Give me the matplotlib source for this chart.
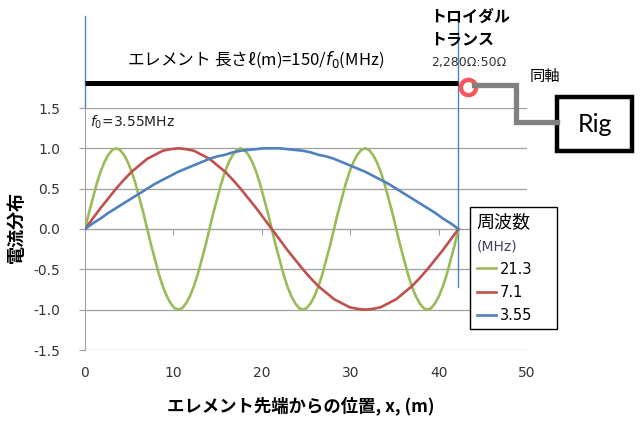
import matplotlib
matplotlib.use('Agg')
import matplotlib.pyplot as plt
from matplotlib.lines import Line2D
from matplotlib.patches import Rectangle
from matplotlib.font_manager import FontProperties

# data: current distribution along the element
x_pos = [0.0, 0.88, 1.76, 2.64, 3.52, 4.40, 5.28, 6.16, 7.04, 7.92, 8.80, 9.68,
         10.56, 11.44, 12.32, 13.20, 14.08, 14.96, 15.85, 16.72, 17.60, 18.48, 19.36, 20.24,
         21.13, 22.01, 22.89, 23.77, 24.65, 25.53, 26.41, 27.29, 28.17, 29.05, 29.93, 30.81,
         31.69, 32.57, 33.45, 34.33, 35.21, 36.09, 36.97, 37.85, 38.73, 39.61, 40.49, 41.37,
         42.25]
# finer positions for the 21.3 MHz curve
x_pos_fine = [0.0, 0.44, 0.88, 1.32, 1.76, 2.20, 2.64, 3.08, 3.52, 3.96, 4.40, 4.84,
              5.28, 5.72, 6.16, 6.60, 7.04, 7.48, 7.92, 8.36, 8.80, 9.24, 9.68, 10.12,
              10.56, 11.00, 11.44, 11.88, 12.32, 12.76, 13.20, 13.64, 14.08, 14.52, 14.96, 15.40,
              15.84, 16.28, 16.72, 17.16, 17.60, 18.04, 18.48, 18.92, 19.36, 19.80, 20.24, 20.68,
              21.13, 21.57, 22.01, 22.45, 22.89, 23.33, 23.77, 24.21, 24.65, 25.09, 25.53, 25.97,
              26.41, 26.85, 27.29, 27.73, 28.17, 28.61, 29.05, 29.49, 29.93, 30.37, 30.81, 31.25,
              31.69, 32.13, 32.57, 33.01, 33.45, 33.89, 34.33, 34.77, 35.21, 35.65, 36.09, 36.53,
              36.97, 37.41, 37.85, 38.29, 38.73, 39.17, 39.61, 40.05, 40.49, 40.93, 41.37, 41.81,
              42.25]
i_21_3 = [0, .20, .38, .56, .71, .83, .92, .98, 1, .98, .92, .83, .71, .56, .38, .20,
          0, -.20, -.38, -.56, -.71, -.83, -.92, -.98, -1, -.98, -.92, -.83, -.71, -.56, -.38, -.20,
          0, .20, .38, .56, .71, .83, .92, .98, 1, .98, .92, .83, .71, .56, .38, .20,
          0, -.20, -.38, -.56, -.71, -.83, -.92, -.98, -1, -.98, -.92, -.83, -.71, -.56, -.38, -.20,
          0, .20, .38, .56, .71, .83, .92, .98, 1, .98, .92, .83, .71, .56, .38, .20,
          0, -.20, -.38, -.56, -.71, -.83, -.92, -.98, -1, -.98, -.92, -.83, -.71, -.56, -.38, -.20,
          0]
i_7_1 = [0, .13, .26, .38, .50, .61, .71, .79, .87, .92, .97, .99, 1.0, .99, .97, .92,
         .87, .79, .71, .61, .50, .38, .26, .13, 0, -.13, -.26, -.38, -.50, -.61, -.71, -.79,
         -.87, -.92, -.97, -.99, -1.0, -.99, -.97, -.92, -.87, -.79, -.71, -.61, -.50, -.38, -.26, -.13,
         0]
i_3_55 = [0, .07, .13, .20, .26, .32, .38, .44, .50, .56, .61, .66, .71, .75, .79, .83,
          .87, .90, .92, .95, .97, .98, .99, 1.0, 1.0, 1.0, .99, .98, .97, .95, .92, .90,
          .87, .83, .79, .75, .71, .66, .61, .56, .50, .44, .38, .32, .26, .20, .13, .07,
          0]
series_labels = ['21.3', '7.1', '3.55']
series_colors = ['#9bbb59', '#c0504d', '#4f81bd']
x_ticks = [0, 10, 20, 30, 40, 50]
y_ticks = [-1.5, -1.0, -0.5, 0.0, 0.5, 1.0, 1.5]
element_len = 42.25   # 150 / 3.55 MHz

W, H = 642, 422
JP = ['Noto Sans CJK JP', 'DejaVu Sans']

def fx(px):
    return px / W

def fy(py):
    return 1 - py / H

fig = plt.figure(figsize=(W / 100, H / 100), dpi=100)
ax = fig.add_axes([fx(85), fy(350), (527 - 85) / W, (350 - 108) / H])

lines = []
xs_list = [x_pos_fine, x_pos, x_pos]
for xs, ys, lab, col in zip(xs_list, [i_21_3, i_7_1, i_3_55], series_labels, series_colors):
    ln, = ax.plot(xs, ys, color=col, lw=1.9, label=lab, zorder=3,
                  solid_joinstyle='round')
    lines.append(ln)

ax.set_xlim(0, 50)
ax.set_ylim(-1.5, 1.5)
ax.set_yticks(y_ticks)
ax.set_yticklabels([f'{v:.1f}' for v in y_ticks])
ax.set_xticks(x_ticks[1:-1])

grid_c = '#a0a0a0'
ax.grid(axis='y', color=grid_c, lw=0.9)
ax.set_axisbelow(True)
for s in ['top', 'right']:
    ax.spines[s].set_visible(False)
ax.spines['left'].set_color(grid_c)
ax.spines['bottom'].set_position(('data', 0))
ax.spines['bottom'].set_color(grid_c)
ax.tick_params(axis='y', colors=grid_c, labelcolor='#333333', labelsize=10,
               length=4, pad=14)
ax.tick_params(axis='x', colors=grid_c, length=4, labelbottom=False)

# x tick labels sit below the plot (axis line is at y=0)
for t in x_ticks:
    ax.text(t, -0.095, str(t), transform=ax.get_xaxis_transform(),
            ha='center', va='center', fontsize=10, color='#333333')

ax.set_xlabel('エレメント先端からの位置, x, (m)', family=JP, fontsize=12.5,
              fontweight='bold')
ax.xaxis.set_label_coords(0.489, -0.19)
fig.text(fx(16), fy(227), '電流分布', family=JP, fontsize=13, fontweight='bold',
         rotation=90, ha='center', va='center')

ax.text(0.012, 0.942, r'$f_0$=3.55MHz', transform=ax.transAxes,
        ha='left', va='center', fontsize=10, color='#222222')

# element drawing above the plot
blue = '#4f81bd'
ax.axvline(0, ymin=1.0, ymax=1.38, color=blue, lw=1, clip_on=False)
ax.axvline(element_len, ymin=0.26, ymax=1.38, color=blue, lw=1, clip_on=False)
ax.plot([0, element_len], [1.81, 1.81], color='black', lw=3.6,
        solid_capstyle='butt', clip_on=False)

# coax + rig box (figure pixels)
fig.add_artist(Line2D([fx(474), fx(516), fx(516), fx(557)],
                      [fy(85), fy(85), fy(122), fy(122)],
                      color='#808080', lw=3.8, solid_joinstyle='miter'))
ax.plot([43.3], [1.76], marker='o', ms=11, mfc='white', mec='#f5575a',
        mew=3.2, clip_on=False, zorder=5)
fig.add_artist(Rectangle((fx(557), fy(151)), (632 - 557) / W, (151 - 97) / H,
                         transform=fig.transFigure, facecolor='white',
                         edgecolor='black', lw=3.2))
fig.text(fx(595), fy(125), 'Rig', family='Lato', fontsize=18,
         ha='center', va='center')

fig.text(fx(430), fy(17), 'トロイダル', family=JP, fontsize=11.5,
         fontweight='bold', ha='left', va='center')
fig.text(fx(430), fy(40), 'トランス', family=JP, fontsize=11.5,
         fontweight='bold', ha='left', va='center')
fig.text(fx(469), fy(63), '2,280Ω:50Ω', fontsize=9, ha='center',
         va='center', color='#333333')
fig.text(fx(530), fy(76), '同軸', family=JP, fontsize=11, ha='left',
         va='center')
fig.text(fx(127), fy(60), 'エレメント 長さℓ(m)=150/$f_0$(MHz)', family=JP,
         fontsize=12, ha='left', va='center')

# legend
empty = Line2D([], [], color='none')
leg = ax.legend([empty] + lines, ['(MHz)'] + series_labels, title='周波数',
                loc='upper left', bbox_to_anchor=(fx(470), fy(333), 87 / W, 126 / H),
                bbox_transform=fig.transFigure, mode='expand', alignment='left',
                frameon=True, fancybox=False, framealpha=1, edgecolor='black',
                prop=FontProperties(family='DejaVu Sans', size=10.5),
                title_fontproperties=FontProperties(family=JP, size=13),
                handlelength=1.3, handletextpad=0.3, labelspacing=0.55,
                borderpad=0.45, borderaxespad=0)
leg.get_frame().set_linewidth(1.0)
mhz = leg.get_texts()[0]
mhz.set_x(-(1.3 + 0.3) * 10.5 * 100 / 72)
mhz.set_fontsize(10)
mhz.set_color('#3f3f5f')

fig.savefig('out.png', dpi=100)
